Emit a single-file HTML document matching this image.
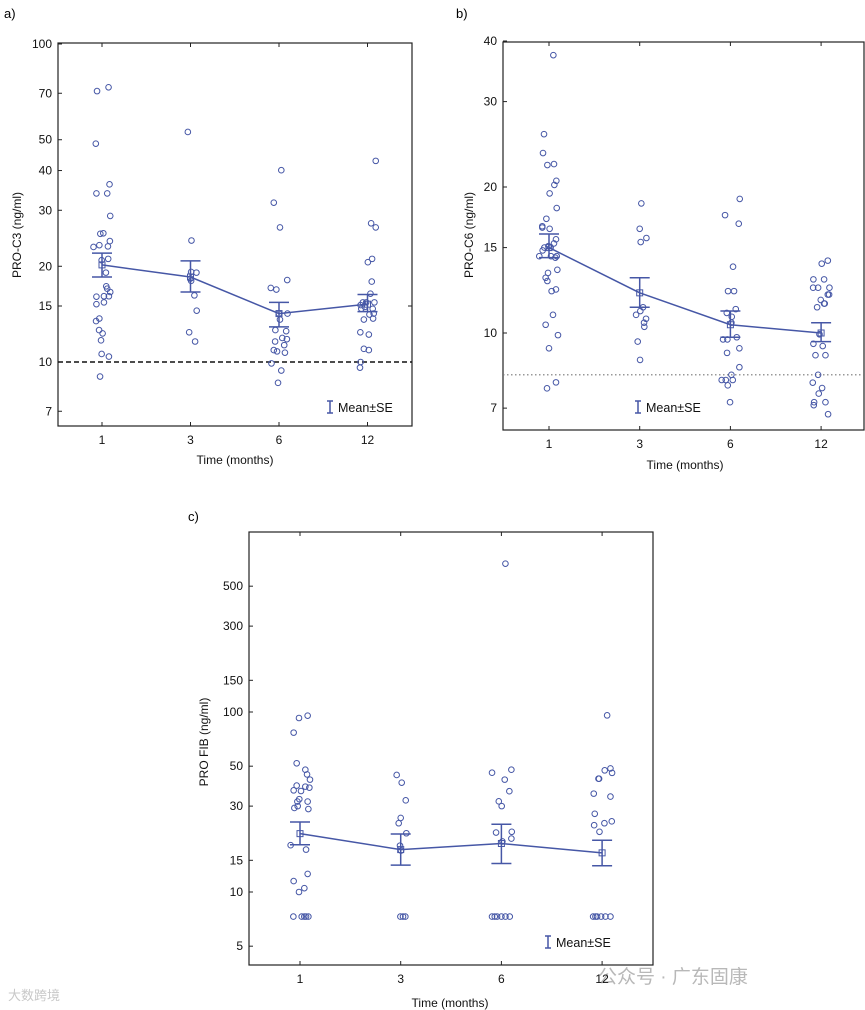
<!DOCTYPE html>
<html><head><meta charset="utf-8"><style>
body{margin:0;background:#fff;width:865px;height:1010px;overflow:hidden}
svg{display:block;font-family:"Liberation Sans",sans-serif}
</style></head><body>
<svg id="fig" width="865" height="1010" viewBox="0 0 865 1010">
<text x="4" y="18" font-size="13" fill="#000">a)</text>
<text x="456" y="18" font-size="13" fill="#000">b)</text>
<text x="188" y="521" font-size="13" fill="#000">c)</text>
<text x="598" y="983" font-size="19" fill="#b8b8b8" font-family="Liberation Sans,Noto Sans CJK SC,sans-serif">公众号 · 广东固康</text>
<text x="8" y="1000" font-size="13" fill="#c8c8c8" font-family="Liberation Sans,Noto Sans CJK SC,sans-serif">大数跨境</text>
</svg>
<script>
const categories = ["1","3","6","12"];
// Panel a: PRO-C3
const aVals = [
[71.1,73.1,48.6,33.9,33.9,36.2,28.8,25.3,25.4,24.0,23.0,23.3,23.1,20.9,21.1,19.1,17.3,17.0,16.6,16.05,16.1,16.1,15.2,15.4,13.45,13.7,12.6,12.3,11.7,10.6,10.4,9.0],
[52.9,24.1,19.2,19.1,18.3,18.0,16.2,14.5,12.4,11.6],
[40.1,31.7,26.5,18.1,17.1,16.9,14.2,14.2,13.6,12.6,12.5,11.9,11.8,11.6,11.3,10.9,10.8,10.7,9.9,9.4,8.6],
[42.9,27.3,26.5,21.1,20.6,17.9,16.4,15.4,15.4,15.1,14.9,14.7,14.2,14.1,13.7,13.6,12.4,12.2,11.0,10.9,10.0,9.6,15.4,14.7]];
const aJit = [
[-0.056,0.074,-0.070,-0.063,0.059,0.085,0.093,-0.019,0.015,0.089,-0.096,-0.030,0.067,-0.004,0.070,0.044,0.048,0.059,0.093,-0.063,0.022,0.078,-0.063,0.022,-0.067,-0.030,-0.033,0.007,-0.011,-0.004,0.078,-0.022],
[-0.030,0.011,0.007,0.067,0,0.007,0.044,0.070,-0.015,0.052],
[0.026,-0.059,0.011,0.093,-0.093,-0.030,0,0.096,0.011,-0.041,0.081,0.037,0.089,-0.044,0.059,-0.059,-0.022,0.067,-0.085,0.026,-0.011],
[0.093,0.041,0.093,0.052,0.004,0.048,0.033,-0.052,-0.015,-0.078,-0.030,0.059,0.070,0.022,0.063,-0.041,-0.081,0.015,-0.041,0.015,-0.078,-0.085,0.078,-0.070]];
const aMean = [20.2,18.5,14.2,15.2];
const aLo = [18.5,16.6,12.9,14.4];
const aHi = [22.0,20.8,15.4,16.3];
const aTicks = [100,70,50,40,30,20,15,10,7];
// Panel b: PRO-C6
const bVals = [
[37.4,25.7,23.5,22.2,22.3,20.6,20.2,19.4,18.1,17.2,16.6,16.4,16.5,15.6,15.3,15.1,14.8,14.4,14.4,14.4,14.3,13.5,13.3,13.0,12.8,12.3,12.2,10.9,10.4,9.9,9.3,7.91,7.69,15.0,15.0],
[18.5,16.4,15.7,15.4,11.3,10.9,11.1,10.7,10.5,10.3,9.6,8.8],
[18.9,17.5,16.8,13.7,12.2,12.2,11.2,11.0,10.8,9.7,9.7,9.8,9.3,9.1,8.5,8.2,8.0,8.0,8.0,7.8,7.2,10.5],
[14.1,13.9,12.9,12.9,12.4,12.4,12.4,12.0,12.0,11.7,11.5,11.3,11.5,9.94,9.5,9.4,9.0,9.0,8.2,7.9,7.7,7.5,7.2,7.2,7.1,6.8]];
const bJit = [
[0.048,-0.055,-0.066,-0.018,0.055,0.081,0.059,0.007,0.085,-0.029,-0.074,0.007,-0.074,0.077,0.055,-0.007,-0.070,0.022,-0.107,0.085,0.070,0.092,-0.011,-0.037,-0.018,0.077,0.029,0.044,-0.037,0.099,0,0.077,-0.022,-0.051,0.018],
[0.018,0,0.074,0.011,0.037,-0.040,0.007,0.070,0.048,0.051,-0.022,0.004],
[0.103,-0.059,0.092,0.029,-0.026,0.040,0.059,-0.040,0.015,-0.033,-0.081,0.070,0.099,-0.037,0.099,0.011,-0.096,-0.051,0.026,-0.029,-0.004,0.011],
[0.074,0.007,-0.085,0.033,-0.088,-0.033,0.092,0.074,0.088,-0.004,0.033,-0.044,0.040,-0.018,-0.085,0.018,-0.062,0.048,-0.033,-0.092,0.011,-0.026,-0.077,0.048,-0.081,0.077]];
const bMean = [15.0,12.1,10.4,10.0];
const bLo = [14.3,11.3,9.8,9.6];
const bHi = [16.0,13.0,11.1,10.5];
const bTicks = [40,30,20,15,10,7];
// Panel c: PRO FIB
const cVals = [
[95.4,92.6,76.8,51.9,47.8,45.0,42.1,39.0,38.5,38.0,36.7,36.4,32.8,31.8,31.8,29.3,30.0,28.9,18.2,17.2,12.6,11.5,10.5,10.0,7.3,7.3,7.3,7.3,7.3],
[44.7,40.5,32.3,25.8,24.1,21.2,18.1,17.0,7.3,7.3,7.3],
[667,46.0,47.8,42.1,36.3,31.9,30.0,21.4,21.6,19.8,19.1,7.3,7.3,7.3,7.3,7.3,7.3],
[95.8,48.6,47.4,45.9,42.6,42.6,35.2,33.9,27.2,24.1,24.7,23.5,21.6,7.3,7.3,7.3,7.3,7.3,7.3]];
const cJit = [
[0.076,-0.010,-0.063,-0.033,0.053,0.070,0.099,-0.033,0.053,0.093,-0.063,0.010,-0.007,-0.026,0.076,-0.056,-0.023,0.083,-0.093,0.060,0.076,-0.063,0.043,-0.010,-0.066,0.017,0.043,0.083,0.060],
[-0.040,0.010,0.050,0,-0.020,0.056,-0.007,0.003,-0.003,0.046,0.023],
[0.040,-0.093,0.099,0.033,0.079,-0.026,0.003,-0.053,0.103,0.099,0.010,-0.093,-0.043,0,0.040,0.083,-0.066],
[0.050,0.083,0.026,0.099,-0.030,-0.036,-0.083,0.083,-0.073,0.023,0.096,-0.079,-0.026,-0.089,-0.050,-0.010,0.033,0.083,-0.066]];
const cMean = [21.1,17.2,18.6,16.5];
const cLo = [18.3,14.1,14.4,14.0];
const cHi = [24.5,21.0,23.8,19.4];
const cTicks = [500,300,150,100,50,30,15,10,5];

const NS="http://www.w3.org/2000/svg", COL="#4657a6";
const svg=document.getElementById('fig');
function mk(tag,attrs,parent){const e=document.createElementNS(NS,tag);for(const k in attrs)e.setAttribute(k,attrs[k]);(parent||svg).appendChild(e);return e;}

function panel(p){
  const g=mk('g',{});
  
  
  const yS=v=>p.y10-(Math.log10(v)-1)*p.dec;
  const xS=(i,j)=>p.cx0+(i+(j||0))*p.step;
  const box=mk('rect',{x:p.x0,y:p.y0,width:p.x1-p.x0,height:p.y1-p.y0,fill:'none',stroke:'#222','stroke-width':1.2},g);
  
  
  p.ticks.forEach(t=>{
    const y=yS(t);
    mk('line',{x1:p.x0,x2:p.x0+4,y1:y,y2:y,stroke:'#222'},g);
    const tx=mk('text',{x:p.x0-6,y:y+4,'font-size':12,'text-anchor':'end',fill:'#111'},g);
    tx.textContent=t;
    
    
  });
  categories.forEach((c,i)=>{
    const x=xS(i);
    mk('line',{x1:x,x2:x,y1:p.y1,y2:p.y1-4,stroke:'#222'},g);
    mk('line',{x1:x,x2:x,y1:p.y0,y2:p.y0+4,stroke:'#222'},g);
    const tx=mk('text',{x:x,y:p.y1+18,'font-size':12,'text-anchor':'middle',fill:'#111'},g);
    tx.textContent=c;
    
    
  });
  if(p.ref){
    const y=yS(p.ref);
    const l=mk('line',{x1:p.x0,x2:p.x1,y1:y,y2:y,stroke:p.refDot?'#777':'#111','stroke-width':p.refDot?1.2:1.6,'stroke-dasharray':p.refDot?'1.5,2.5':'5,3'},g);
    
    
  }
  p.vals.forEach((arr,i)=>arr.forEach((v,k)=>{
    const c=mk('circle',{cx:xS(i,p.jit[i][k]),cy:yS(v),r:2.8,fill:'none',stroke:COL,'stroke-width':1},g);
    
    
  }));
  const pts=p.mean.map((m,i)=>xS(i)+','+yS(m)).join(' ');
  const pl=mk('polyline',{points:pts,fill:'none',stroke:COL,'stroke-width':1.5},g);
  
  
  p.mean.forEach((m,i)=>{
    const x=xS(i),yl=yS(p.lo[i]),yh=yS(p.hi[i]);
    const eb=mk('path',{d:`M${x-10},${yh}H${x+10}M${x},${yh}V${yl}M${x-10},${yl}H${x+10}`,stroke:COL,'stroke-width':1.5,fill:'none'},g);
    
    
    const sq=mk('rect',{x:x-3,y:yS(m)-3,width:6,height:6,fill:'none',stroke:COL,'stroke-width':1},g);
    
    
  });
  const lg=mk('g',{},g);
  
  
  const lx=p.lg[0],ly=p.lg[1];
  mk('path',{d:`M${lx-3},${ly-7}H${lx+3}M${lx},${ly-7}V${ly+5}M${lx-3},${ly+5}H${lx+3}`,stroke:COL,'stroke-width':1.5,fill:'none'},lg);
  const lt=mk('text',{x:lx+8,y:ly+4,'font-size':12.5,fill:'#111'},lg);
  lt.textContent='Mean±SE';
  const xt=mk('text',{x:p.xt[0],y:p.xt[1],'font-size':12,'text-anchor':'middle',fill:'#111'},g);
  xt.textContent='Time (months)';
  
  
  const yt=mk('text',{x:0,y:0,'font-size':12,'text-anchor':'middle',fill:'#111',transform:`translate(${p.yt[0]},${p.yt[1]}) rotate(-90)`},g);
  yt.textContent=p.ytitle;
  
  
  if(p.rtick){const y=yS(p.rtick);mk('line',{x1:p.x1,x2:p.x1-4,y1:y,y2:y,stroke:'#222'},g);}
}
panel({id:'pro-c3',x0:58,y0:43,x1:412,y1:426,y10:362,dec:318,cx0:102,step:88.5,ticks:aTicks,vals:aVals,jit:aJit,mean:aMean,lo:aLo,hi:aHi,ref:10,refDot:false,lg:[330,408],xt:[235,464],yt:[21,235],ytitle:'PRO-C3 (ng/ml)',rtick:15});
panel({id:'pro-c6',x0:503,y0:42,x1:864,y1:430,y10:333,dec:485,cx0:549,step:90.7,ticks:bTicks,vals:bVals,jit:bJit,mean:bMean,lo:bLo,hi:bHi,ref:8.2,refDot:true,lg:[638,408],xt:[685,469],yt:[473,235],ytitle:'PRO-C6 (ng/ml)'});
panel({id:'pro-fib',x0:249,y0:532,x1:653,y1:965,y10:892,dec:180,cx0:300,step:100.7,ticks:cTicks,vals:cVals,jit:cJit,mean:cMean,lo:cLo,hi:cHi,lg:[548,943],xt:[450,1007],yt:[208,742],ytitle:'PRO FIB (ng/ml)'});
</script>
</body></html>
